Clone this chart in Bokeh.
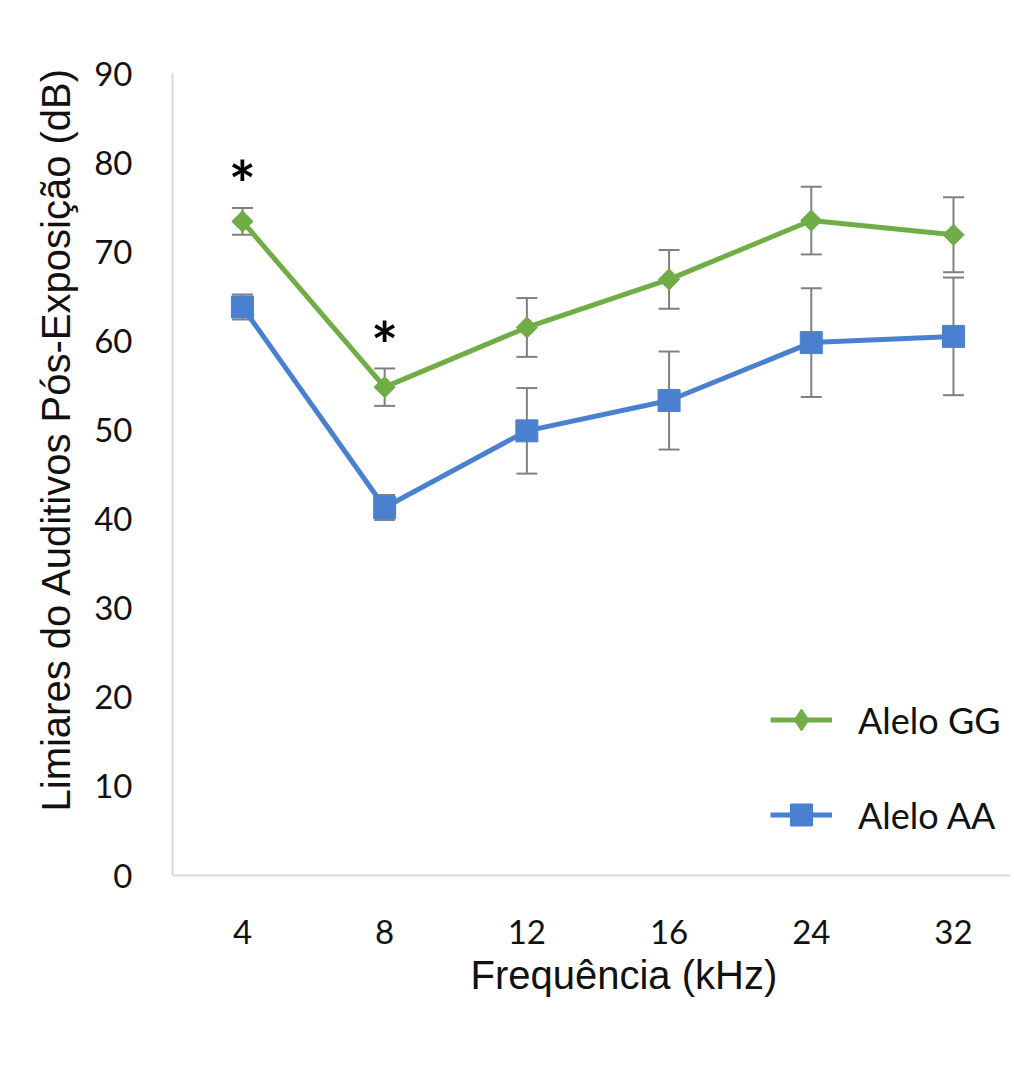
import math
from bokeh.plotting import figure
from bokeh.models import (Range1d, Whisker, TeeHead, ColumnDataSource, Legend,
                          LegendItem, Title, FixedTicker)
from bokeh.core.properties import value
from bokeh.embed import file_html
from bokeh.resources import INLINE

# ---- data ----
freqs = ["4", "8", "12", "16", "24", "32"]
gg_mean = [73.4, 54.8, 61.5, 66.9, 73.5, 71.9]
gg_err = [1.5, 2.1, 3.3, 3.3, 3.8, 4.2]
aa_mean = [63.8, 41.3, 49.9, 53.3, 59.8, 60.5]
aa_err = [1.4, 1.4, 4.8, 5.5, 6.1, 6.6]
signif = [True, True, False, False, False, False]
y_ticks = [0, 10, 20, 30, 40, 50, 60, 70, 80, 90]

GREEN = "#70AD47"
BLUE = "#4A80D0"
GRAY = "#808080"
AXIS = "#D9D9D9"

W, H = 1010, 1060
xs = list(range(len(freqs)))

p = figure(width=W, height=H,
           x_range=Range1d(-0.492, 5.401), y_range=Range1d(0, 90),
           output_backend="svg", toolbar_location=None,
           min_border_left=172, min_border_right=0,
           min_border_top=73, min_border_bottom=H - 875)
p.xgrid.visible = False
p.ygrid.visible = False
p.outline_line_color = None
p.background_fill_color = "white"
p.border_fill_color = "white"

for ax in (p.xaxis[0], p.yaxis[0]):
    ax.axis_line_color = AXIS
    ax.axis_line_width = 2
    ax.major_tick_line_color = None
    ax.minor_tick_line_color = None
    ax.major_label_text_font = "Lato"
    ax.major_label_text_color = "#111111"

p.xaxis.ticker = FixedTicker(ticks=xs)
p.xaxis.major_label_overrides = {i: f for i, f in zip(xs, freqs)}
p.xaxis.major_label_text_font_size = "33px"
p.xaxis.major_label_standoff = 38
p.yaxis.ticker = FixedTicker(ticks=y_ticks)
p.yaxis.major_label_text_font_size = "33px"
p.yaxis.major_label_standoff = 34

# error bars
for mean, err in ((gg_mean, gg_err), (aa_mean, aa_err)):
    src = ColumnDataSource(dict(x=xs,
                                upper=[m + e for m, e in zip(mean, err)],
                                lower=[m - e for m, e in zip(mean, err)]))
    w = Whisker(base="x", upper="upper", lower="lower", source=src,
                line_color=GRAY, line_width=2, level="underlay",
                upper_head=TeeHead(size=21, line_color=GRAY, line_width=2),
                lower_head=TeeHead(size=21, line_color=GRAY, line_width=2))
    p.add_layout(w)

l_gg = p.line(xs, gg_mean, line_color=GREEN, line_width=5)
# narrow diamond (used for the legend), covered by the rotated square below
d_gg = p.scatter(xs, gg_mean, marker="diamond", size=21,
                 fill_color=GREEN, line_color=GREEN)
s_gg = p.scatter(xs, gg_mean, marker="square", angle=math.pi / 4, size=15,
                 fill_color=GREEN, line_color=GREEN)
l_aa = p.line(xs, aa_mean, line_color=BLUE, line_width=5)
s_aa = p.scatter(xs, aa_mean, marker="square", size=22,
                 fill_color=BLUE, line_color=BLUE)

# significance asterisks
sx = [x for x, s in zip(xs, signif) if s]
sy = [m + e + 2.7 for m, e, s in zip(gg_mean, gg_err, signif) if s]
p.text(x=sx, y=sy, text=["*"] * len(sx), text_font=value("Lato"),
       text_font_size="64px", text_font_style="bold", text_color="black",
       text_align="center", text_baseline="middle")

# legend
leg = Legend(items=[LegendItem(label="Alelo GG", renderers=[l_gg, d_gg]),
                    LegendItem(label="Alelo AA", renderers=[l_aa, s_aa])],
             location=(598, 33), glyph_width=62, glyph_height=55,
             label_height=42, label_standoff=26, spacing=40,
             padding=0, margin=0,
             border_line_color=None, background_fill_alpha=0,
             label_text_font="Lato", label_text_font_size="36px",
             label_text_color="#111111")
p.add_layout(leg)

# axis titles (as side titles so they can be offset like the original)
p.add_layout(Title(text="Limiares do Auditivos Pós-Exposição (dB)",
                   align="left", offset=64, standoff=28,
                   text_font="Liberation Sans", text_font_size="40px",
                   text_font_style="normal", text_color="#111111"), "left")
p.add_layout(Title(text="Frequência (kHz)",
                   align="left", offset=298, standoff=9,
                   text_font="Liberation Sans", text_font_size="40px",
                   text_font_style="normal", text_color="#111111"), "below")

open("out.html", "w").write(file_html(p, INLINE))
